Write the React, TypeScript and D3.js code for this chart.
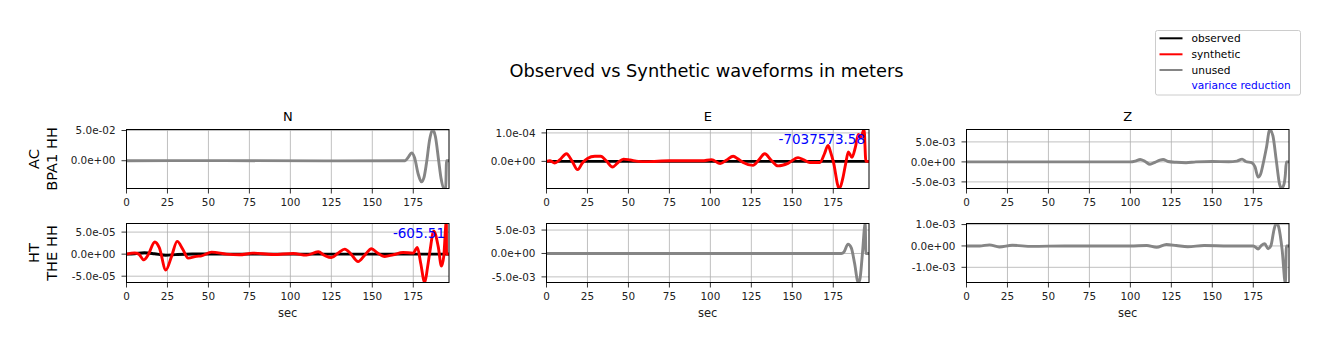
import React from "react";
import * as d3 from "d3";

// ---------- data (time in sec, amplitude in each panel's unit) ----------
const timeTicks = [0, 25, 50, 75, 100, 125, 150, 175];
const timeMax = 196.8;
const components = ["N", "E", "Z"];
const stationLabels = [["AC", "BPA1 HH"], ["HT", "THE HH"]];
const legendLabels = ["observed", "synthetic", "unused", "variance reduction"];

// AC BPA1 HH — N (unit 1e-2), unused
const acN_unused: [number, number][] = [
  [0, 0], [60, 0.02], [120, -0.02], [170, 0], [172, 0.6], [174, 1.3], [175.8, 0.5], [178, -2.2],
  [180, -3.5], [181.5, -2.8], [183, -0.5], [185, 3.5], [186.8, 5.17], [188.5, 4.0], [190.5, 0],
  [192, -3.0], [193.6, -4.6], [194.8, -4.4], [195.3, 0], [196.8, 0],
];
// AC BPA1 HH — E (unit 1e-4)
const acE_observed: [number, number][] = [[0, 0], [100, 0], [196.8, 0]];
const acE_synthetic: [number, number][] = [
  [0, 0], [2, 0.02], [5, -0.06], [8, 0.05], [12.2, 0.27], [15.5, 0.02], [19, -0.29], [22, -0.05],
  [25, 0.1], [29.5, 0.18], [33, 0.18], [36.5, 0.02], [40.3, -0.2], [43.5, -0.05], [47, 0.08],
  [51, 0.05], [56, 0.0], [61, -0.01], [75, 0.02], [95, 0.02], [100.7, 0.06], [106, -0.08],
  [110, 0.05], [113.9, 0.18], [117, 0.08], [120, -0.04], [126, -0.14], [129.5, 0.05],
  [133.2, 0.27], [137, 0.05], [141.3, -0.16], [147.4, -0.07], [153.5, 0.13], [157, 0.05],
  [160.7, -0.04], [166.8, -0.04], [169.5, 0.25], [171.8, 0.56], [173.5, 0.3], [175, 0.0],
  [178.6, -0.95], [181, -0.55], [182.5, -0.1], [184.2, 0.33], [186.4, 0.14], [188.5, 0.5],
  [190.3, 0.95], [191.8, 0.85], [193.8, 1.12], [194.9, 0], [196.8, 0],
];
// AC BPA1 HH — Z (unit 1e-3), unused
const acZ_unused: [number, number][] = [
  [0, 0], [100, 0], [103, 0.2], [106, 0.6], [109, 0.1], [112, -0.6], [115, -0.1], [118, 0.45],
  [120, 0.6], [123, 0.1], [128, -0.1], [134, -0.2], [140, 0], [150, 0.1], [160, 0.05], [165, 0.2],
  [168.2, 0.7], [170.4, 0.1], [174, -0.2], [176, -1.2], [178, -3.8], [179.5, -3.0], [181, -0.5],
  [183, 3.5], [185.1, 8.1], [187, 6.5], [189, 0.5], [191, -5.5], [192.3, -6.65], [193.8, -5.5],
  [194.5, -3.5], [195.2, 0], [196.8, 0],
];
// HT THE HH — N (unit 1e-5)
const htN_observed: [number, number][] = [
  [0, 0], [5, 0.1], [11, 0.3], [17, 0.1], [24, -0.25], [30, -0.1], [40, 0.05], [60, 0],
  [100, 0], [140, 0], [180, 0], [196.8, 0],
];
const htN_synthetic: [number, number][] = [
  [0, 0], [5, 0.25], [7.5, 0], [10.6, -1.3], [13, -0.3], [17.3, 2.77], [20, 1.5], [24, -3.6],
  [27.5, -0.5], [30.9, 2.9], [34.5, 1.0], [37.6, -0.9], [42.7, -0.5], [45.8, -0.4], [51.9, 0.46],
  [61, 0], [69, -0.15], [77, 0.23], [89.5, -0.08], [101.7, 0.15], [109.8, -0.23], [117, 0.54],
  [121, -0.3], [125, -0.77], [129, 0.2], [133.2, 1.15], [137, 0], [141.3, -1.7], [145.5, -0.2],
  [149.5, 1.23], [153, 0.3], [157.6, -0.54], [162.7, -0.15], [168.8, 0.38], [174.9, 0.23],
  [177.5, 1.54], [179.5, -2], [182, -6.45], [183.7, -3], [185.1, 0.5], [187.5, 5.2],
  [190.2, 1.77], [192.2, -2.7], [193.6, -0.5], [195.2, 7.5], [195.3, 0], [196.8, 0],
];
// HT THE HH — E (unit 1e-3), unused
const htE_unused: [number, number][] = [
  [0, 0], [100, 0], [180, 0], [181.5, 0.3], [184, 2.0], [186, 1.2], [188, -2.1], [190.2, -6.2],
  [191.2, -5.6], [192.8, 0], [194.5, 6.5], [194.9, 0], [196.8, 0],
];
// HT THE HH — Z (unit 1e-3), unused
const htZ_unused: [number, number][] = [
  [0, 0], [8, 0], [14, 0.05], [20, -0.05], [28, 0.03], [40, -0.02], [60, 0], [100, 0], [110, 0.02],
  [116, -0.06], [122, 0.07], [128, 0.02], [135, -0.04], [145, 0.02], [160, 0], [175, 0],
  [178, -0.14], [180, 0.03], [182, 0.1], [184, -0.13], [185.7, 0], [187.7, 0.78], [189.1, 1.08],
  [190.6, 0.86], [192.6, -0.17], [194.6, -1.75], [195.2, 0], [196.8, 0],
];

const varianceReductions = ["-7037573.58", "-605.51"];

// ---------- layout ----------
const W = 1329;
const H = 351;
const colLeft = [126.5, 546.5, 966.5];
const panelW = 322.5;
const rowTop = [129.5, 223.5];
const panelH = 59;
const FONT = "DejaVu Sans, sans-serif";
const GRAY = "#858585";

type Line = { data: [number, number][]; color: string };
type Panel = {
  row: number;
  col: number;
  unit: number;
  yDomain: [number, number];
  yTicks: number[];
  lines: Line[];
  vr?: string;
};

const panels: Panel[] = [
  { row: 0, col: 0, unit: 1e-2, yDomain: [-4.6, 5.17], yTicks: [0, 5], lines: [{ data: acN_unused, color: GRAY }] },
  {
    row: 0, col: 1, unit: 1e-4, yDomain: [-0.954, 1.12], yTicks: [0, 1],
    lines: [{ data: acE_observed, color: "black" }, { data: acE_synthetic, color: "red" }],
    vr: varianceReductions[0],
  },
  { row: 0, col: 2, unit: 1e-3, yDomain: [-6.65, 8.1], yTicks: [-5, 0, 5], lines: [{ data: acZ_unused, color: GRAY }] },
  {
    row: 1, col: 0, unit: 1e-5, yDomain: [-6.43, 6.95], yTicks: [-5, 0, 5],
    lines: [{ data: htN_observed, color: "black" }, { data: htN_synthetic, color: "red" }],
    vr: varianceReductions[1],
  },
  { row: 1, col: 1, unit: 1e-3, yDomain: [-6.2, 6.4], yTicks: [-5, 0, 5], lines: [{ data: htE_unused, color: GRAY }] },
  { row: 1, col: 2, unit: 1e-3, yDomain: [-1.71, 1.05], yTicks: [-1, 0, 1], lines: [{ data: htZ_unused, color: GRAY }] },
];

function sci(v: number): string {
  const s = v.toExponential(1);
  const [m, e] = s.split("e");
  const sign = e[0];
  const digits = e.slice(1).padStart(2, "0");
  return `${m}e${sign}${digits}`;
}

function PanelView({ p, idx }: { p: Panel; idx: number }) {
  const x0 = colLeft[p.col];
  const y0 = rowTop[p.row];
  const x = d3.scaleLinear().domain([0, timeMax]).range([x0, x0 + panelW]);
  const y = d3.scaleLinear().domain(p.yDomain).range([y0 + panelH, y0]);
  const line = d3
    .line<[number, number]>()
    .x((d) => x(d[0]))
    .y((d) => y(d[1]))
    .curve(d3.curveMonotoneX);
  const clipId = `clip-${idx}`;
  const bottom = y0 + panelH;
  return (
    <g>
      <defs>
        <clipPath id={clipId}>
          <rect x={x0} y={y0} width={panelW} height={panelH} />
        </clipPath>
      </defs>
      {/* grid */}
      {timeTicks.map((t) => (
        <line key={`gx${t}`} x1={x(t)} x2={x(t)} y1={y0} y2={bottom} stroke="#b0b0b0" strokeWidth={0.8} />
      ))}
      {p.yTicks.map((v) => (
        <line key={`gy${v}`} x1={x0} x2={x0 + panelW} y1={y(v)} y2={y(v)} stroke="#b0b0b0" strokeWidth={0.8} />
      ))}
      {/* lines */}
      <g clipPath={`url(#${clipId})`}>
        {p.lines.map((l, i) => (
          <path key={i} d={line(l.data) || ""} fill="none" stroke={l.color} strokeWidth={2.9} strokeLinejoin="round" />
        ))}
      </g>
      {/* spines */}
      <rect x={x0} y={y0} width={panelW} height={panelH} fill="none" stroke="black" strokeWidth={1} />
      {/* x ticks */}
      {timeTicks.map((t) => (
        <g key={`xt${t}`}>
          <line x1={x(t)} x2={x(t)} y1={bottom} y2={bottom + 5} stroke="black" strokeWidth={0.8} />
          <text x={x(t)} y={bottom + 17.5} textAnchor="middle" fontSize={10.4} fontFamily={FONT} fill="#222">
            {t}
          </text>
        </g>
      ))}
      {/* y ticks */}
      {p.yTicks.map((v) => (
        <g key={`yt${v}`}>
          <line x1={x0 - 5} x2={x0} y1={y(v)} y2={y(v)} stroke="black" strokeWidth={0.8} />
          <text x={x0 - 11} y={y(v)} dy="0.35em" textAnchor="end" fontSize={10.4} fontFamily={FONT} fill="#222">
            {sci(v * p.unit)}
          </text>
        </g>
      ))}
      {p.row === 0 && (
        <text x={x0 + panelW / 2} y={y0 - 8.8} textAnchor="middle" fontSize={13} fontFamily={FONT} fill="black">
          {components[p.col]}
        </text>
      )}
      {p.row === 1 && (
        <text x={x0 + panelW / 2} y={bottom + 34.5} textAnchor="middle" fontSize={11.5} fontFamily={FONT} fill="#222">
          sec
        </text>
      )}
      {p.vr && (
        <text x={x0 + panelW - 4} y={y0 + 14} textAnchor="end" fontSize={13.5} fontFamily={FONT} fill="blue">
          {p.vr}
        </text>
      )}
    </g>
  );
}

export default function App() {
  const legendColors = ["black", "red", GRAY];
  const legendRowY = [38.3, 54.3, 70, 85.7];
  return (
    <svg
      width={W}
      height={H}
      style={{ position: "absolute", left: 0, top: 0, background: "white" }}
      xmlns="http://www.w3.org/2000/svg"
    >
      <rect x={0} y={0} width={W} height={H} fill="white" />
      <text x={706.5} y={77.3} textAnchor="middle" fontSize={17.8} fontFamily={FONT} fill="black">
        Observed vs Synthetic waveforms in meters
      </text>
      {panels.map((p, i) => (
        <PanelView key={i} p={p} idx={i} />
      ))}
      {/* row labels */}
      {stationLabels.map((lbl, r) => {
        const cy = rowTop[r] + panelH / 2;
        return (
          <g key={r}>
            <text transform={`translate(34.3,${cy}) rotate(-90)`} textAnchor="middle" dy="0.35em" fontSize={14.6} fontFamily={FONT} fill="black">
              {lbl[0]}
            </text>
            <text transform={`translate(52.3,${cy}) rotate(-90)`} textAnchor="middle" dy="0.35em" fontSize={14.6} fontFamily={FONT} fill="black">
              {lbl[1]}
            </text>
          </g>
        );
      })}
      {/* legend */}
      <rect x={1155.5} y={30.5} width={145} height={64.5} rx={2} fill="white" fillOpacity={0.8} stroke="#cccccc" strokeWidth={1} />
      {legendLabels.map((lab, i) => (
        <g key={lab}>
          {i < 3 && (
            <line x1={1159.5} x2={1182.5} y1={legendRowY[i]} y2={legendRowY[i]} stroke={legendColors[i]} strokeWidth={2} />
          )}
          <text x={1191.5} y={legendRowY[i]} dy="0.35em" fontSize={10.6} fontFamily={FONT} fill={i === 3 ? "blue" : "black"}>
            {lab}
          </text>
        </g>
      ))}
    </svg>
  );
}
